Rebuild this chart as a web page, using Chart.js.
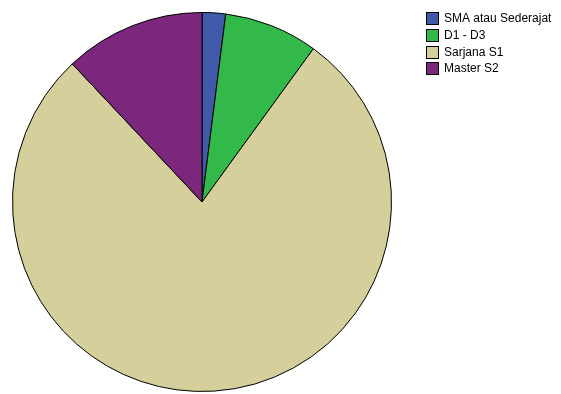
<!DOCTYPE html>
<html>
<head>
<meta charset="utf-8">
<script src="https://cdn.jsdelivr.net/npm/chart.js@4"></script>
<style>
  html, body { margin: 0; padding: 0; background: #fff; }
  #wrap { position: relative; width: 561px; height: 394px; }
</style>
</head>
<body>
<div id="wrap"><canvas id="pieChart" width="561" height="394"></canvas></div>
<script>
// education level of respondents
const categories = ['SMA atau Sederajat', 'D1 - D3', 'Sarjana S1', 'Master S2'];
const counts = [1, 4, 39, 6];
const colors = ['#3F5AA8', '#33B84A', '#D4CF9B', '#7B287C'];

// legend drawn in the top right corner, boxes stacked
const boxLegend = {
  id: 'boxLegend',
  afterDraw(chart) {
    const ctx = chart.ctx;
    const x = 426, y0 = 12, step = 16.8, size = 13;
    ctx.save();
    ctx.font = '12px "Liberation Sans", Arial, sans-serif';
    ctx.textBaseline = 'middle';
    ctx.lineWidth = 1;
    categories.forEach((label, i) => {
      const y = Math.round(y0 + i * step);
      ctx.fillStyle = colors[i];
      ctx.fillRect(x, y, size, size);
      ctx.strokeStyle = '#000';
      ctx.strokeRect(x + 0.5, y + 0.5, size - 1, size - 1);
      ctx.fillStyle = '#000';
      ctx.fillText(label, x + 18, y + size / 2 + 0.5);
    });
    ctx.restore();
  }
};

document.addEventListener('DOMContentLoaded', function() {
  const canvas = document.getElementById('pieChart');
  new Chart(canvas, {
    type: 'pie',
    data: {
      labels: categories,
      datasets: [{
        data: counts,
        backgroundColor: colors,
        borderColor: '#000',
        borderWidth: 1
      }]
    },
    options: {
      responsive: false,
      animation: false,
      layout: { padding: { left: 12, top: 12, right: 169, bottom: 2 } },
      plugins: {
        legend: { display: false },
        tooltip: { enabled: false }
      }
    },
    plugins: [boxLegend]
  });
});
</script>
</body>
</html>
